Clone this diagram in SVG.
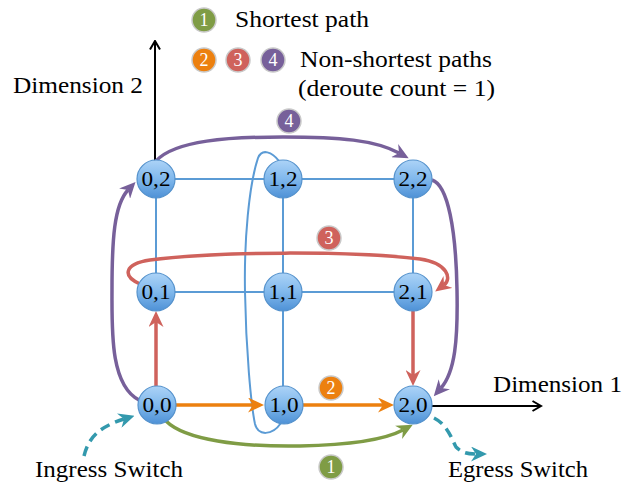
<svg xmlns="http://www.w3.org/2000/svg" width="624" height="487" viewBox="0 0 624 487" font-family="Liberation Serif, Times New Roman, serif">
  <style>
    .lbl { font-size: 23px; fill: #000; }
    .nodeTxt { font-size: 22px; text-anchor: middle; fill: #000; }
    .numTxt { font-size: 18px; fill: #fff; text-anchor: middle; }
    .node circle { fill: url(#nodeFill); stroke: #5592cc; stroke-width: 1.2; }
    .grid { stroke: #5b9bd5; stroke-width: 2; fill: none; }
    .axis { stroke: #000; stroke-width: 2; fill: none; }
    .p1 { stroke: #7f9c45; stroke-width: 3.5; fill: none; }
    .p2 { stroke: #ec800f; stroke-width: 3.5; fill: none; }
    .p3 { stroke: #cf625c; stroke-width: 3.5; fill: none; }
    .p4 { stroke: #77609a; stroke-width: 3.5; fill: none; }
    .io { stroke: #3399ad; stroke-width: 3.5; fill: none; stroke-dasharray: 10 6; }
    .badge { stroke: #c9c9c9; stroke-width: 1.5; }
  </style>
  <defs>
    <linearGradient id="nodeFill" x1="0" y1="0" x2="0" y2="1">
      <stop offset="0" stop-color="#acd3f7"/>
      <stop offset="0.5" stop-color="#80b8ec"/>
      <stop offset="1" stop-color="#4e91d6"/>
    </linearGradient>
    <marker id="hGreen" viewBox="0 0 16 15" refX="5" refY="7.5" markerWidth="16" markerHeight="15" markerUnits="userSpaceOnUse" orient="auto">
      <path d="M0,0 L16,7.5 L0,15 L5,7.5 Z" fill="#7f9c45"/>
    </marker>
    <marker id="hOrange" viewBox="0 0 16 15" refX="5" refY="7.5" markerWidth="16" markerHeight="15" markerUnits="userSpaceOnUse" orient="auto">
      <path d="M0,0 L16,7.5 L0,15 L5,7.5 Z" fill="#ec800f"/>
    </marker>
    <marker id="hRed" viewBox="0 0 16 15" refX="5" refY="7.5" markerWidth="16" markerHeight="15" markerUnits="userSpaceOnUse" orient="auto">
      <path d="M0,0 L16,7.5 L0,15 L5,7.5 Z" fill="#cf625c"/>
    </marker>
    <marker id="hPurple" viewBox="0 0 16 15" refX="5" refY="7.5" markerWidth="16" markerHeight="15" markerUnits="userSpaceOnUse" orient="auto">
      <path d="M0,0 L16,7.5 L0,15 L5,7.5 Z" fill="#77609a"/>
    </marker>
    <marker id="hTeal" viewBox="0 0 16 15" refX="5" refY="7.5" markerWidth="16" markerHeight="15" markerUnits="userSpaceOnUse" orient="auto">
      <path d="M0,0 L16,7.5 L0,15 L5,7.5 Z" fill="#3399ad"/>
    </marker>
    <marker id="hOpen" viewBox="0 0 11 12" refX="9.5" refY="6" markerWidth="11" markerHeight="12" markerUnits="userSpaceOnUse" orient="auto">
      <path d="M1,1 L9.5,6 L1,11" fill="none" stroke="#000" stroke-width="2"/>
    </marker>
  </defs>

  <!-- legend -->
  <g id="legend">
    <circle class="badge" cx="204" cy="20" r="12" fill="#7f9c45"/>
    <text class="numTxt" x="204" y="26">1</text>
    <text class="lbl" x="235" y="27" textLength="134" lengthAdjust="spacingAndGlyphs">Shortest path</text>
    <circle class="badge" cx="204" cy="60" r="12" fill="#ec800f"/>
    <text class="numTxt" x="204" y="66">2</text>
    <circle class="badge" cx="238" cy="60" r="12" fill="#cf625c"/>
    <text class="numTxt" x="238" y="66">3</text>
    <circle class="badge" cx="273" cy="60" r="12" fill="#77609a"/>
    <text class="numTxt" x="273" y="66">4</text>
    <text class="lbl" x="300" y="67" textLength="192" lengthAdjust="spacingAndGlyphs">Non-shortest paths</text>
    <text class="lbl" x="298" y="96" textLength="197" lengthAdjust="spacingAndGlyphs">(deroute count = 1)</text>
  </g>

  <!-- axes -->
  <g id="axes">
    <line class="axis" x1="155" y1="175" x2="155" y2="41" marker-end="url(#hOpen)"/>
    <line class="axis" x1="420" y1="406" x2="541" y2="406" marker-end="url(#hOpen)"/>
    <text class="lbl" x="13" y="93" textLength="130" lengthAdjust="spacingAndGlyphs">Dimension 2</text>
    <text class="lbl" x="493" y="392" textLength="129" lengthAdjust="spacingAndGlyphs">Dimension 1</text>
  </g>

  <!-- connectors -->
  <g id="connectors">
    <!-- mesh links -->
    <line class="grid" x1="156" y1="179" x2="413" y2="179"/>
    <line class="grid" x1="156" y1="292" x2="413" y2="292"/>
    <line class="grid" x1="156" y1="179" x2="156" y2="292"/>
    <line class="grid" x1="283" y1="179" x2="283" y2="405"/>
    <line class="grid" x1="413" y1="179" x2="413" y2="292"/>
    <!-- wrap-around link of column 1 -->
    <path class="grid" d="M279,161 C272,152 262,148 258,158 C249,185 244,240 245,292 C246,350 251,405 255,424 C258,436 272,436 281,423"/>

    <!-- path 1: shortest -->
    <path class="p1" d="M166,421 C185,440 240,447 300,446 C350,445 386,439 403,430" marker-end="url(#hGreen)"/>
    <!-- path 2 -->
    <line class="p2" x1="175" y1="405" x2="253" y2="405" marker-end="url(#hOrange)"/>
    <line class="p2" x1="303" y1="405" x2="383" y2="405" marker-end="url(#hOrange)"/>
    <!-- path 3 -->
    <line class="p3" x1="156" y1="386" x2="156" y2="322" marker-end="url(#hRed)"/>
    <path class="p3" d="M140,284 C122,276 124,264 150,260 C220,251 350,251 420,259 C448,263 452,279 444,285" marker-end="url(#hRed)"/>
    <line class="p3" x1="413" y1="311" x2="413" y2="375" marker-end="url(#hRed)"/>
    <!-- path 4 -->
    <path class="p4" d="M139,400 C110,385 112,330 112,290 C112,240 114,205 128,190" marker-end="url(#hPurple)"/>
    <path class="p4" d="M156,161 C175,140 230,137 283,137 C340,137 375,140 399,153" marker-end="url(#hPurple)"/>
    <path class="p4" d="M432,180 C448,185 456,230 457,290 C458,340 455,372 441,388" marker-end="url(#hPurple)"/>

    <!-- ingress / egress -->
    <path class="io" d="M84,456 C88,440 96,428 124,419" marker-end="url(#hTeal)"/>
    <path class="io" d="M434,418 C448,425 452,440 456,447 C462,453 468,454 476,454" marker-end="url(#hTeal)"/>
  </g>

  <!-- path badges -->
  <g id="badges">
    <circle class="badge" cx="289" cy="121" r="12" fill="#77609a"/>
    <text class="numTxt" x="289" y="127">4</text>
    <circle class="badge" cx="329" cy="238" r="12" fill="#cf625c"/>
    <text class="numTxt" x="329" y="244">3</text>
    <circle class="badge" cx="331" cy="388" r="12" fill="#ec800f"/>
    <text class="numTxt" x="331" y="394">2</text>
    <circle class="badge" cx="331" cy="467" r="12" fill="#7f9c45"/>
    <text class="numTxt" x="331" y="473">1</text>
  </g>

  <!-- switches -->
  <g id="n02" class="node"><circle cx="156" cy="179" r="19"/><text class="nodeTxt" x="156" y="186" textLength="29" lengthAdjust="spacingAndGlyphs">0,2</text></g>
  <g id="n12" class="node"><circle cx="283" cy="179" r="19"/><text class="nodeTxt" x="283" y="186" textLength="29" lengthAdjust="spacingAndGlyphs">1,2</text></g>
  <g id="n22" class="node"><circle cx="413" cy="179" r="19"/><text class="nodeTxt" x="413" y="186" textLength="29" lengthAdjust="spacingAndGlyphs">2,2</text></g>
  <g id="n01" class="node"><circle cx="156" cy="292" r="19"/><text class="nodeTxt" x="156" y="299" textLength="29" lengthAdjust="spacingAndGlyphs">0,1</text></g>
  <g id="n11" class="node"><circle cx="283" cy="292" r="19"/><text class="nodeTxt" x="283" y="299" textLength="29" lengthAdjust="spacingAndGlyphs">1,1</text></g>
  <g id="n21" class="node"><circle cx="413" cy="292" r="19"/><text class="nodeTxt" x="413" y="299" textLength="29" lengthAdjust="spacingAndGlyphs">2,1</text></g>
  <g id="n00" class="node"><circle cx="157" cy="405" r="19"/><text class="nodeTxt" x="157" y="412" textLength="29" lengthAdjust="spacingAndGlyphs">0,0</text></g>
  <g id="n10" class="node"><circle cx="284" cy="405" r="19"/><text class="nodeTxt" x="284" y="412" textLength="29" lengthAdjust="spacingAndGlyphs">1,0</text></g>
  <g id="n20" class="node"><circle cx="413" cy="405" r="19"/><text class="nodeTxt" x="413" y="412" textLength="29" lengthAdjust="spacingAndGlyphs">2,0</text></g>

  <!-- endpoint captions -->
  <g id="captions">
    <text class="lbl" x="35" y="477" textLength="148" lengthAdjust="spacingAndGlyphs">Ingress Switch</text>
    <text class="lbl" x="448" y="477" textLength="140" lengthAdjust="spacingAndGlyphs">Egress Switch</text>
  </g>
</svg>
